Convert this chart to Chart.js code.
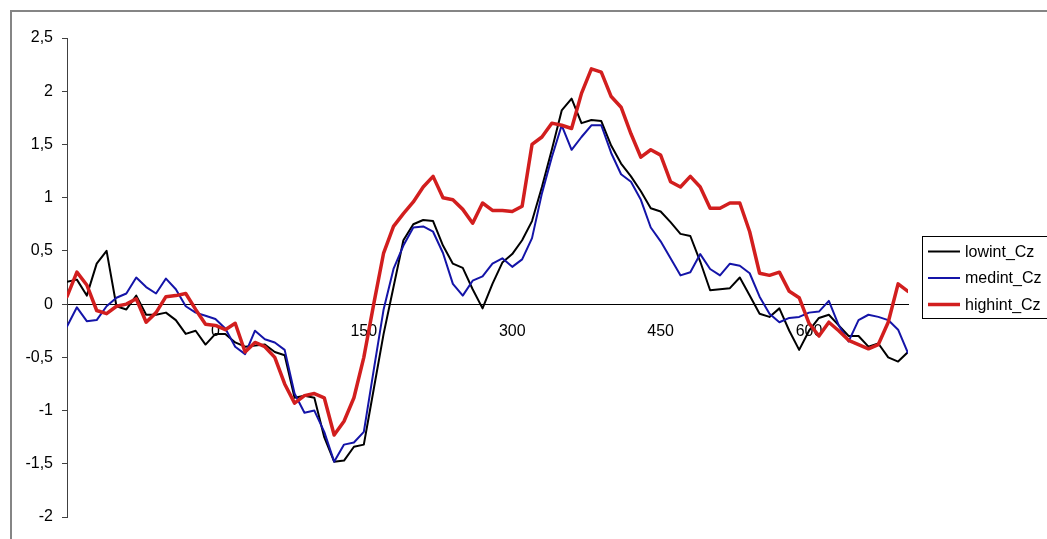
<!DOCTYPE html>
<html>
<head>
<meta charset="utf-8">
<script src="https://cdn.jsdelivr.net/npm/chart.js@4.4.1/dist/chart.umd.min.js"></script>
<style>
  html, body { margin: 0; padding: 0; background: #fff; overflow: hidden; }
  #grafico { display: block; }
</style>
</head>
<body>
<canvas id="grafico" width="1047" height="539"></canvas>
<script>
// tiempo en ms (cada 10 ms)
const tiempos = [-150, -140, -130, -120, -110, -100, -90, -80, -70, -60,
  -50, -40, -30, -20, -10, 0, 10, 20, 30, 40,
  50, 60, 70, 80, 90, 100, 110, 120, 130, 140,
  150, 160, 170, 180, 190, 200, 210, 220, 230, 240,
  250, 260, 270, 280, 290, 300, 310, 320, 330, 340,
  350, 360, 370, 380, 390, 400, 410, 420, 430, 440,
  450, 460, 470, 480, 490, 500, 510, 520, 530, 540,
  550, 560, 570, 580, 590, 600, 610, 620, 630, 640,
  650, 660, 670, 680, 690, 700];

const lowint = [0.21, 0.23, 0.08, 0.38, 0.5, -0.02, -0.05, 0.08, -0.1, -0.1,
  -0.08, -0.15, -0.28, -0.25, -0.38, -0.28, -0.28, -0.36, -0.4, -0.39,
  -0.38, -0.45, -0.48, -0.88, -0.86, -0.88, -1.25, -1.48, -1.47, -1.34,
  -1.32, -0.8, -0.28, 0.16, 0.6, 0.75, 0.79, 0.78, 0.55, 0.38,
  0.34, 0.14, -0.04, 0.19, 0.39, 0.47, 0.6, 0.78, 1.1, 1.45,
  1.82, 1.93, 1.7, 1.73, 1.72, 1.49, 1.32, 1.2, 1.06, 0.9,
  0.87, 0.77, 0.66, 0.64, 0.4, 0.13, 0.14, 0.15, 0.25, 0.08,
  -0.09, -0.12, -0.04, -0.25, -0.43, -0.25, -0.13, -0.1, -0.2, -0.3,
  -0.3, -0.4, -0.37, -0.5, -0.54, -0.45];

const medint = [-0.21, -0.03, -0.16, -0.15, -0.02, 0.06, 0.1, 0.25, 0.16, 0.1,
  0.24, 0.14, -0.02, -0.08, -0.11, -0.14, -0.23, -0.4, -0.47, -0.25,
  -0.33, -0.36, -0.43, -0.84, -1.02, -1.0, -1.2, -1.48, -1.32, -1.3,
  -1.2, -0.62, -0.05, 0.33, 0.55, 0.72, 0.73, 0.68, 0.48, 0.19,
  0.08, 0.22, 0.26, 0.38, 0.43, 0.35, 0.42, 0.62, 1.04, 1.38,
  1.68, 1.45, 1.57, 1.68, 1.68, 1.42, 1.22, 1.15, 0.98, 0.72,
  0.59, 0.43, 0.27, 0.3, 0.47, 0.33, 0.27, 0.38, 0.36, 0.29,
  0.07, -0.09, -0.17, -0.13, -0.12, -0.08, -0.07, 0.03, -0.2, -0.35,
  -0.15, -0.1, -0.12, -0.15, -0.24, -0.46];

const highint = [0.07, 0.3, 0.18, -0.06, -0.09, -0.02, 0.0, 0.05, -0.17, -0.08,
  0.07, 0.08, 0.1, -0.05, -0.19, -0.2, -0.24, -0.18, -0.45, -0.36,
  -0.4, -0.5, -0.75, -0.93, -0.86, -0.84, -0.88, -1.23, -1.1, -0.88,
  -0.5, 0.0, 0.48, 0.73, 0.85, 0.96, 1.1, 1.2, 1.0, 0.98,
  0.89, 0.76, 0.95, 0.88, 0.88, 0.87, 0.92, 1.5, 1.57, 1.7,
  1.68, 1.65, 1.98, 2.21, 2.18, 1.95, 1.85, 1.6, 1.38, 1.45,
  1.4, 1.15, 1.1, 1.2, 1.1, 0.9, 0.9, 0.95, 0.95, 0.68,
  0.29, 0.27, 0.3, 0.12, 0.06, -0.18, -0.3, -0.17, -0.25, -0.34,
  -0.38, -0.42, -0.38, -0.17, 0.19, 0.12];

const ticksX = [0, 150, 300, 450, 600];

const fuente = '"Liberation Sans", Arial, sans-serif';

function puntos(valores) {
  return tiempos.map((t, i) => ({x: t, y: valores[i]}));
}

// marco gris y fondo
const marco = {
  id: 'marco',
  beforeDraw(chart) {
    const ctx = chart.ctx;
    ctx.save();
    ctx.fillStyle = '#fff';
    ctx.fillRect(0, 0, chart.width, chart.height);
    ctx.strokeStyle = '#858585';
    ctx.lineWidth = 2;
    ctx.strokeRect(11, 11, 2000, 2000);
    ctx.restore();
  }
};

// leyenda con recuadro, estilo excel
const leyenda = {
  id: 'leyenda',
  afterDraw(chart) {
    const ctx = chart.ctx;
    ctx.save();
    ctx.strokeStyle = '#000';
    ctx.lineWidth = 1;
    ctx.fillStyle = '#fff';
    ctx.fillRect(922.5, 236.5, 200, 82);
    ctx.strokeRect(922.5, 236.5, 200, 82);
    ctx.font = '16px ' + fuente;
    ctx.textBaseline = 'middle';
    chart.data.datasets.forEach((ds, i) => {
      const y = 251.5 + i * 26.5;
      ctx.strokeStyle = ds.borderColor;
      ctx.lineWidth = ds.borderWidth;
      ctx.beginPath();
      ctx.moveTo(928, y);
      ctx.lineTo(960, y);
      ctx.stroke();
      ctx.fillStyle = '#000';
      ctx.fillText(ds.label, 965, y + 1);
    });
    ctx.restore();
  }
};

new Chart(document.getElementById('grafico'), {
  type: 'line',
  data: {
    datasets: [
      {
        label: 'lowint_Cz',
        data: puntos(lowint),
        borderColor: '#000000',
        borderWidth: 2,
        order: 3,
      },
      {
        label: 'medint_Cz',
        data: puntos(medint),
        borderColor: '#1414a8',
        borderWidth: 2,
        order: 2,
      },
      {
        label: 'highint_Cz',
        data: puntos(highint),
        borderColor: '#d21e1e',
        borderWidth: 3.5,
        order: 1,
      },
    ],
  },
  options: {
    responsive: false,
    animation: false,
    events: [],
    layout: {
      padding: {left: 10, top: 38, right: 139, bottom: 22},
    },
    elements: {
      point: {radius: 0},
      line: {tension: 0, borderJoinStyle: 'round', borderCapStyle: 'round'},
    },
    plugins: {
      legend: {display: false},
      tooltip: {enabled: false},
    },
    scales: {
      x: {
        type: 'linear',
        min: -150,
        max: 700,
        position: {y: 0},
        afterBuildTicks: (escala) => {
          escala.ticks = ticksX.map(v => ({value: v}));
        },
        grid: {display: false},
        border: {display: true, color: '#000', width: 1},
        ticks: {
          color: '#000',
          padding: 10,
          maxRotation: 0,
          autoSkip: false,
          font: {family: fuente, size: 16},
        },
      },
      y: {
        type: 'linear',
        min: -2,
        max: 2.5,
        afterFit: (escala) => { escala.width = 57; },
        grid: {
          drawOnChartArea: false,
          drawTicks: true,
          tickLength: 5,
          color: '#404040',
        },
        border: {display: true, color: '#404040', width: 1},
        ticks: {
          stepSize: 0.5,
          color: '#000',
          padding: 9,
          font: {family: fuente, size: 16},
          callback: (v) => String(v).replace('.', ','),
        },
      },
    },
  },
  plugins: [marco, leyenda],
});
</script>
</body>
</html>
